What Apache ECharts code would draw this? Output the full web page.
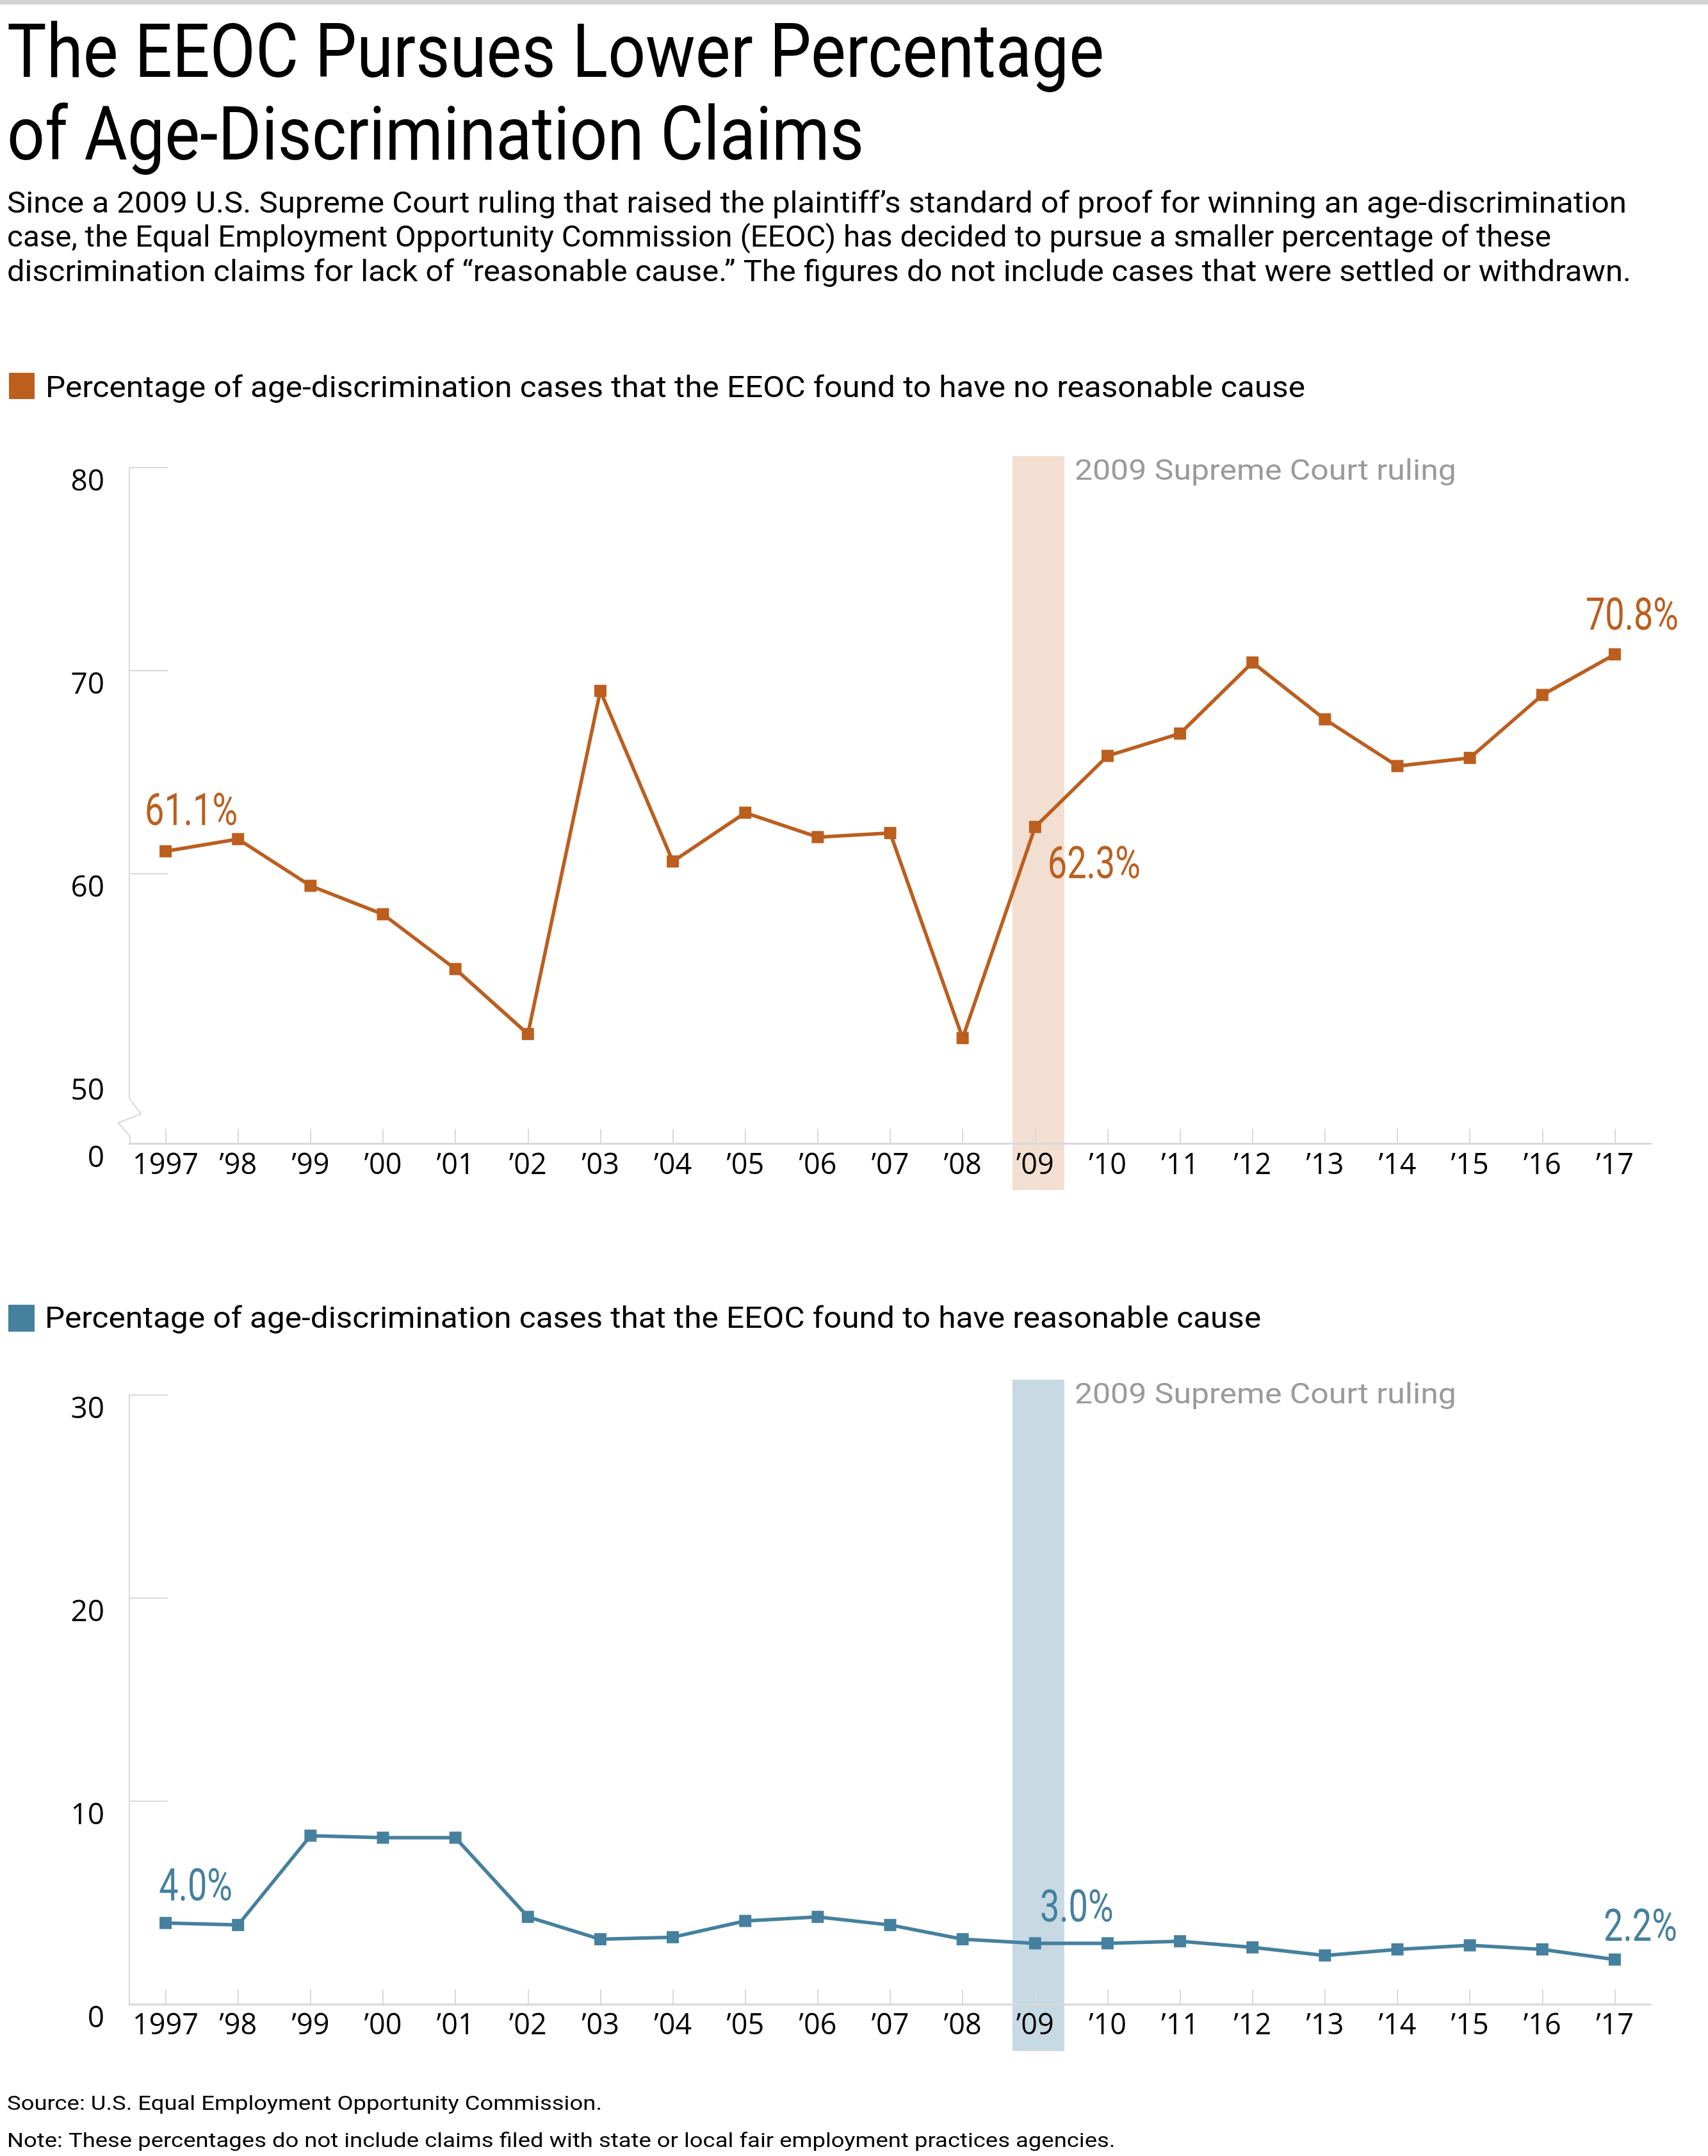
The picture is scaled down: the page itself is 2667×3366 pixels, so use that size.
<!DOCTYPE html>
<html>
<head>
<meta charset="utf-8">
<script src="https://cdn.jsdelivr.net/npm/echarts@6/dist/echarts.min.js"></script>
<style>
html,body{margin:0;padding:0;background:#fff;}
#c{width:2667px;height:3366px;}
</style>
</head>
<body>
<div id="c"></div>
<script>
// ---------------- data ----------------
const years = ['1997','’98','’99','’00','’01','’02','’03','’04','’05','’06','’07','’08','’09','’10','’11','’12','’13','’14','’15','’16','’17'];
const noCause = [61.1,61.7,59.4,58.0,55.3,52.1,69.0,60.6,63.0,61.8,62.0,51.9,62.3,65.8,66.9,70.4,67.6,65.3,65.7,68.8,70.8];
const cause   = [4.0,3.9,8.3,8.2,8.2,4.3,3.2,3.3,4.1,4.3,3.9,3.2,3.0,3.0,3.1,2.8,2.4,2.7,2.9,2.7,2.2];
const topTicks = [50,60,70,80];
const topBreakLabel = '0';
const bottomTicks = [0,10,20,30];
const rulingIndex = 12;
const labeledIdx = [0, 12, 20];

const titleLines = ['The EEOC Pursues Lower Percentage','of Age-Discrimination Claims'];
const subtitleLines = [
  'Since a 2009 U.S. Supreme Court ruling that raised the plaintiff’s standard of proof for winning an age-discrimination',
  'case, the Equal Employment Opportunity Commission (EEOC) has decided to pursue a smaller percentage of these',
  'discrimination claims for lack of “reasonable cause.” The figures do not include cases that were settled or withdrawn.'
];
const legendTop = 'Percentage of age-discrimination cases that the EEOC found to have no reasonable cause';
const legendBottom = 'Percentage of age-discrimination cases that the EEOC found to have reasonable cause';
const rulingLabel = '2009 Supreme Court ruling';
const sourceLines = [
  'Source: U.S. Equal Employment Opportunity Commission.',
  'Note: These percentages do not include claims filed with state or local fair employment practices agencies.'
];

// ---------------- styles ----------------
const ORANGE = '#bc5e1e', BLUE = '#45809e';
const BAND_O = '#f2dfd1', BAND_B = '#c7d9e3';
const AXIS = '#d9d9d9';
const SANS = 'Roboto';
const AXF = 'Open Sans';

const ctx = document.createElement('canvas').getContext('2d');
function tw(text, size, family, weight){ ctx.font = (weight||'normal') + ' ' + size + 'px "' + family + '"'; return ctx.measureText(text).width; }

const sxTitle = 1713 / tw(titleLines[0], 117, SANS);
const subWidths = [2529, 2411, 2536];
const sxSubs = subtitleLines.map(function(t, i){ return subWidths[i] / tw(t, 46, SANS); });
const sxLeg = 1967 / tw(legendTop, 46, SANS);
const sxRule = 596 / tw(rulingLabel, 44, SANS);
const sxSrc = 929 / tw(sourceLines[0], 31, SANS);
const sxLab = 145 / tw('70.8%', 70, SANS);

const topOffsets = [[40,-59],[92,62],[27,-56]];
const botOffsets = [[47,-53],[65,-51],[40,-47]];

function txt(text, x, y, size, sx, color){
  return {type:'text', x:x, y:y, scaleX:sx, silent:true,
    style:{text:text, fontFamily:SANS, fontSize:size, fill:color||'#000', align:'left', verticalAlign:'middle'}};
}

const graphics = [
  {type:'rect', shape:{x:0,y:0,width:2667,height:7}, style:{fill:'#d4d4d4'}, silent:true},
  txt(titleLines[0], 11, 91, 117, sxTitle),
  txt(titleLines[1], 11, 220, 117, sxTitle),
  txt(subtitleLines[0], 11, 320, 46, sxSubs[0]),
  txt(subtitleLines[1], 11, 373.5, 46, sxSubs[1]),
  txt(subtitleLines[2], 11, 427, 46, sxSubs[2]),
  {type:'rect', shape:{x:14,y:582,width:40,height:41}, style:{fill:ORANGE}, silent:true},
  txt(legendTop, 71, 608, 46, sxLeg),
  {type:'rect', shape:{x:13,y:2037,width:41,height:42}, style:{fill:BLUE}, silent:true},
  txt(legendBottom, 70, 2061, 46, sxLeg),
  txt(sourceLines[0], 11, 3286, 31, sxSrc),
  txt(sourceLines[1], 11, 3344.5, 31, sxSrc)
];

function bandRender(color, topExt, botExt){
  return function(params, api){
    const cs = params.coordSys;
    const c = api.coord([api.value(0), api.value(1)]);
    const bw = api.size([1, 0])[0];
    const w = bw * 0.716;
    const x0 = c[0] + bw * 0.045 - w / 2;
    const y0 = cs.y - topExt;
    const y1 = cs.y + cs.height + botExt;
    return {type:'group', children:[
      {type:'rect', shape:{x:x0, y:y0, width:w, height:y1 - y0}, style:{fill:color}},
      {type:'text', x:x0 + w + 16, y:y0 + 25.5, scaleX:sxRule,
        style:{text:rulingLabel, fontFamily:SANS, fontSize:44, fill:'#9b9b9b', align:'left', verticalAlign:'middle'}}
    ]};
  };
}

function labelRender(color, offsets){
  return function(params, api){
    const i = api.value(0), v = api.value(1);
    const p = api.coord([i, v]);
    const off = offsets[params.dataIndex];
    return {type:'text', x:p[0] + off[0], y:p[1] + off[1], scaleX:sxLab,
      style:{text:v.toFixed(1) + '%', fontFamily:SANS, fontSize:70, fill:color, align:'center', verticalAlign:'middle'}};
  };
}

function xAxisCfg(gi){
  return {type:'category', gridIndex:gi, data:years, boundaryGap:true, z:2,
    axisLine:{show:true, lineStyle:{color:AXIS, width:3}},
    axisTick:{show:true, alignWithLabel:true, inside:true, length:23, lineStyle:{color:AXIS, width:2}},
    axisLabel:{interval:0, margin:12, fontFamily:AXF, fontSize:45, color:'#000'},
    splitLine:{show:false}};
}

const topMin = 46.7;

const option = {
  animation:false,
  backgroundColor:'#fff',
  graphic:graphics,
  grid:[
    {left:202, right:89, top:730, height:1055.5},
    {left:202, right:89, top:2178, height:951}
  ],
  xAxis:[xAxisCfg(0), xAxisCfg(1)],
  yAxis:[
    {type:'value', gridIndex:0, min:topMin, max:topTicks[topTicks.length-1], z:2,
      axisLine:{show:false}, splitLine:{show:false},
      axisTick:{show:true, inside:true, length:60, customValues:topTicks.slice(1), lineStyle:{color:AXIS, width:2}},
      axisLabel:{customValues:[topMin].concat(topTicks), formatter:function(v){ return v < topTicks[0] ? topBreakLabel : String(v); },
        verticalAlign:'top', margin:39, fontFamily:AXF, fontSize:46, color:'#000'}},
    {type:'value', gridIndex:1, min:bottomTicks[0], max:bottomTicks[bottomTicks.length-1], z:2,
      axisLine:{show:true, lineStyle:{color:AXIS, width:2}}, splitLine:{show:false},
      axisTick:{show:true, inside:true, length:60, customValues:bottomTicks.slice(1), lineStyle:{color:AXIS, width:2}},
      axisLabel:{customValues:bottomTicks, verticalAlign:'top', margin:39, fontFamily:AXF, fontSize:46, color:'#000'}}
  ],
  series:[
    {type:'custom', xAxisIndex:0, yAxisIndex:0, z:1, silent:true, clip:false,
      data:[[rulingIndex, topTicks[0]]], renderItem:bandRender(BAND_O, 18, 72.5)},
    {type:'custom', xAxisIndex:1, yAxisIndex:1, z:1, silent:true, clip:false,
      data:[[rulingIndex, 0]], renderItem:bandRender(BAND_B, 24, 73)},
    {type:'custom', xAxisIndex:0, yAxisIndex:0, z:2, silent:true, clip:false,
      data:[[0, topTicks[0]]],
      renderItem:function(params, api){
        const cs = params.coordSys;
        const x = cs.x, top = cs.y, bot = cs.y + cs.height;
        const y50 = api.coord([0, topTicks[0]])[1];
        return {type:'polyline', shape:{points:[[x,top],[x,y50+34],[x+18,bot-46.5],[x-17,bot-32.5],[x+1,bot-11.5],[x+1,bot]]},
          style:{stroke:AXIS, lineWidth:2, fill:null}};
      }},
    {type:'line', xAxisIndex:0, yAxisIndex:0, data:noCause, z:3,
      symbol:'rect', symbolSize:19, showAllSymbol:true,
      lineStyle:{color:ORANGE, width:5.5}, itemStyle:{color:ORANGE}, label:{show:false}},
    {type:'line', xAxisIndex:1, yAxisIndex:1, data:cause, z:3,
      symbol:'rect', symbolSize:19, showAllSymbol:true,
      lineStyle:{color:BLUE, width:5.5}, itemStyle:{color:BLUE}, label:{show:false}},
    {type:'custom', xAxisIndex:0, yAxisIndex:0, z:4, silent:true, clip:false,
      data:labeledIdx.map(function(i){ return [i, noCause[i]]; }), renderItem:labelRender(ORANGE, topOffsets)},
    {type:'custom', xAxisIndex:1, yAxisIndex:1, z:4, silent:true, clip:false,
      data:labeledIdx.map(function(i){ return [i, cause[i]]; }), renderItem:labelRender(BLUE, botOffsets)}
  ]
};

const chart = echarts.init(document.getElementById('c'), null, {renderer:'canvas'});
chart.setOption(option);
</script>
</body>
</html>
